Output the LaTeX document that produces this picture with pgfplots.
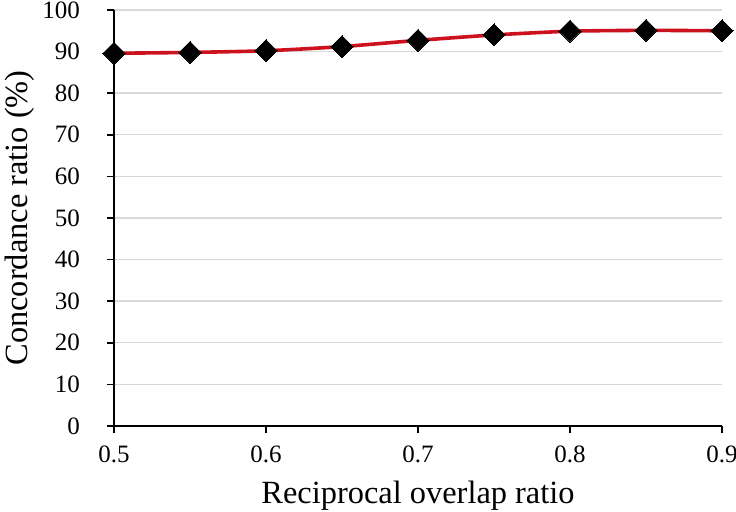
\documentclass[border=0pt]{standalone}
\usepackage{fontspec}
\setmainfont{Liberation Serif}
\usepackage{pgfplots}
\pgfplotsset{compat=1.18}
\definecolor{linered}{RGB}{204,18,28}
\definecolor{gridgray}{RGB}{217,217,217}

\begin{document}
\begin{tikzpicture}
\begin{axis}[
name=ax,
scale only axis,
width=304pt, height=208pt,
xmin=0.5, xmax=0.9,
ymin=0, ymax=100,
axis lines=left,
axis line style={-, line width=0.8pt, black},
xtick={0.5,0.6,0.7,0.8,0.9},
ytick={0,10,...,100},
tick align=outside,
major tick length=3.5pt,
tick style={line width=0.8pt, black},
ymajorgrids,
grid style={gridgray, line width=0.7pt},
/pgf/number format/assume math mode=true,
xticklabel style={font=\fontsize{12.5}{13}\selectfont, yshift=-3pt,
  /pgf/number format/.cd, fixed, fixed zerofill, precision=1},
yticklabel style={font=\fontsize{12.5}{13}\selectfont, xshift=-10pt},
xlabel={Reciprocal overlap ratio},
ylabel={Concordance ratio (\%)},
xlabel style={font=\fontsize{16.2}{18}\selectfont, at={(axis description cs:0.5,0)}, anchor=center, yshift=-35pt},
ylabel style={font=\fontsize{16.2}{18}\selectfont, at={(axis description cs:-0.155,0.5)}, anchor=center},
]
\addplot[
    color=linered,
    line width=1.8pt,
    smooth,
    tension=0.4,
    mark=square*,
    mark size=3.9pt,
    mark options={rotate=45, fill=black, draw=black, line width=0pt, solid}
    ]
    coordinates {
    (0.50,89.6)(0.55,89.8)(0.60,90.2)(0.65,91.2)(0.70,92.7)(0.75,94.0)(0.80,94.9)(0.85,95.1)(0.90,95.0)
    };
\end{axis}
\pgfresetboundingbox
\path ([shift={(-57pt,-43pt)}]ax.south west) rectangle ([shift={(7pt,5pt)}]ax.north east);
\end{tikzpicture}
\end{document}
